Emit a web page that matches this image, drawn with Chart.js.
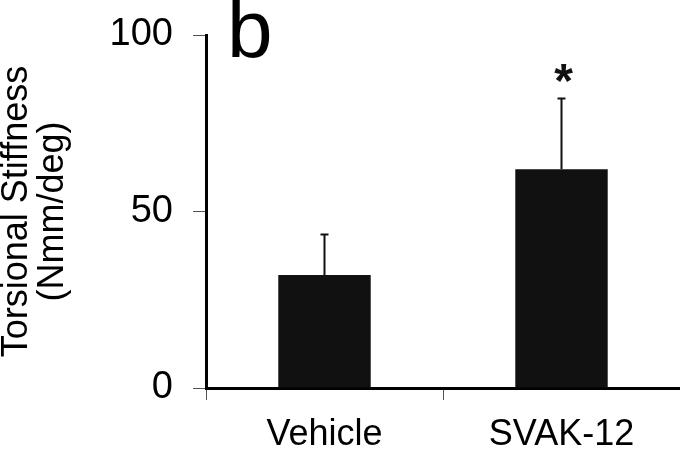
<!DOCTYPE html>
<html>
<head>
<meta charset="utf-8">
<script src="https://cdn.jsdelivr.net/npm/chart.js@4"></script>
<style>
    html, body { margin: 0; padding: 0; background: #fff; }
    #wrap { width: 680px; height: 450px; position: relative; }
</style>
</head>
<body>
<div id="wrap"><canvas id="chart" width="680" height="450"></canvas></div>
<script>
    // values
    const groups = ['Vehicle', 'SVAK-12'];
    const means = [32, 62];
    const sdUpper = [11.5, 20];
    const marks = ['', '*'];
    const yTicks = [0, 50, 100];
    const yTitle = ['Torsional Stiffness', '(Nmm/deg)'];
    const panel = 'b';

    const font = 'Liberation Sans, Arial, Helvetica, sans-serif';

    // error bars, significance star and panel letter
    const extras = {
        id: 'extras',
        afterDatasetsDraw(chart) {
            const ctx = chart.ctx;
            const x = chart.scales.x, y = chart.scales.y;
            ctx.save();
            ctx.strokeStyle = '#111';
            ctx.lineWidth = 2;
            means.forEach((m, i) => {
                const cx = x.getPixelForValue(i);
                const top = y.getPixelForValue(m + sdUpper[i]);
                ctx.beginPath();
                ctx.moveTo(cx, y.getPixelForValue(m));
                ctx.lineTo(cx, top);
                ctx.moveTo(cx - 4, top);
                ctx.lineTo(cx + 4, top);
                ctx.stroke();
                if (marks[i]) {
                    ctx.fillStyle = '#111';
                    ctx.font = 'bold 48px ' + font;
                    ctx.textAlign = 'center';
                    ctx.textBaseline = 'alphabetic';
                    ctx.fillText(marks[i], cx + 2, top - 2);
                }
            });
            ctx.fillStyle = '#000';
            ctx.font = '82px ' + font;
            ctx.textAlign = 'left';
            ctx.textBaseline = 'alphabetic';
            ctx.fillText(panel, 227, 57);
            ctx.restore();
        }
    };

    new Chart(document.getElementById('chart'), {
        type: 'bar',
        data: {
            labels: groups,
            datasets: [{
                data: means,
                backgroundColor: '#111',
                borderColor: '#111',
                borderWidth: 0,
                barPercentage: 0.39,
                categoryPercentage: 1
            }]
        },
        options: {
            responsive: false,
            animation: false,
            layout: { padding: { top: 35, right: 0, left: 0, bottom: 0 } },
            plugins: { legend: { display: false }, tooltip: { enabled: false } },
            scales: {
                x: {
                    grid: { drawOnChartArea: false, tickLength: 12, color: '#555', offset: true },
                    border: { display: true, color: '#000', width: 3 },
                    ticks: { color: '#000', font: { family: font, size: 36 }, padding: 13 },
                    afterFit(s) { s.height = 62; }
                },
                y: {
                    min: 0,
                    max: 100,
                    afterBuildTicks(s) { s.ticks = yTicks.map(v => ({ value: v })); },
                    grid: { drawOnChartArea: false, tickLength: 13, color: '#555' },
                    border: { display: true, color: '#000', width: 3 },
                    ticks: { color: '#000', font: { family: font, size: 38 }, padding: 20 },
                    title: {
                        display: true,
                        text: yTitle,
                        color: '#000',
                        font: { family: font, size: 36, lineHeight: 1.0 },
                        padding: { top: -1, bottom: 0 }
                    },
                    afterFit(s) {
                        s.width = 206;
                        s.paddingTop = 0;
                        s.paddingBottom = 0;
                    }
                }
            }
        },
        plugins: [extras]
    });
</script>
</body>
</html>
